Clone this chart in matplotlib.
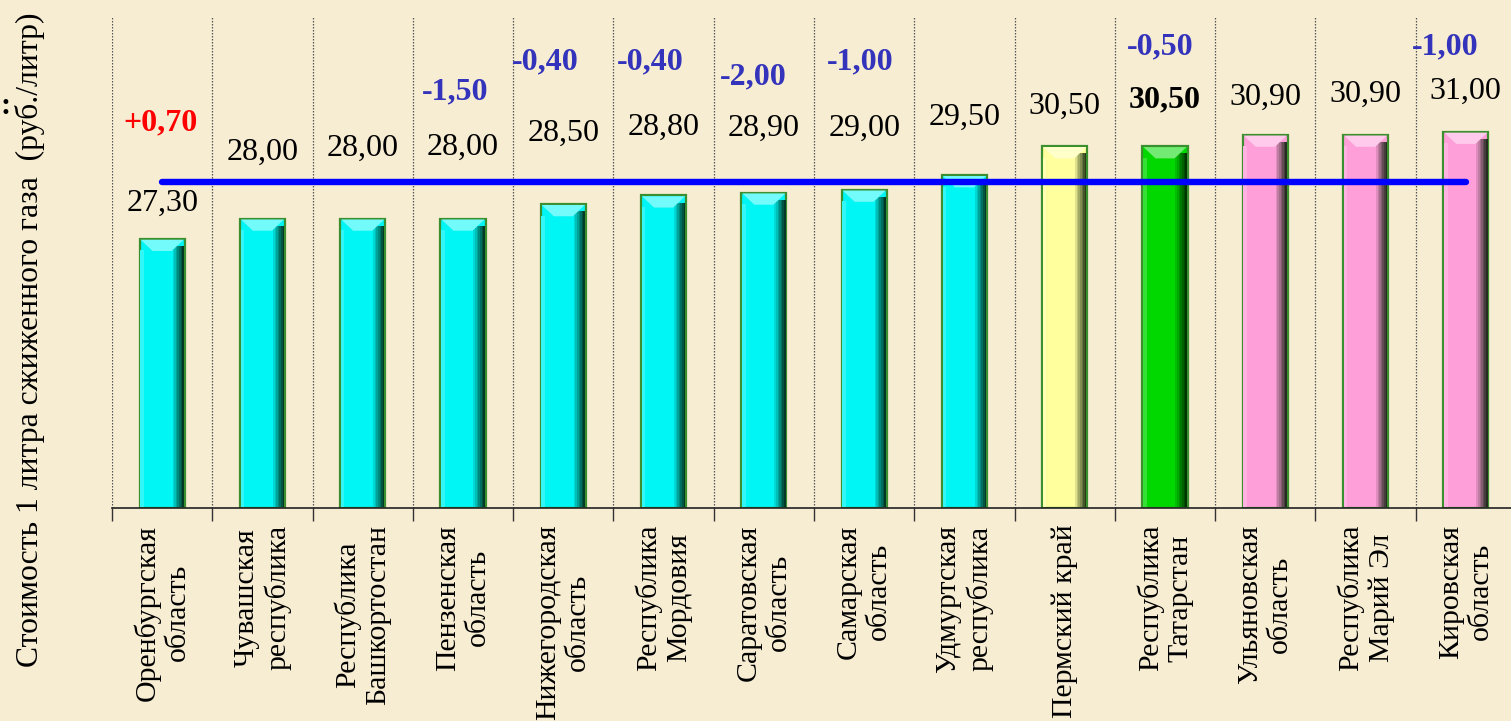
import numpy as np
import matplotlib
matplotlib.use("Agg")
import matplotlib.pyplot as plt
from matplotlib.colors import to_rgb

# ── data ─────────────────────────────────────────────────────────────────────
regions = [
    "Оренбургская\nобласть", "Чувашская\nреспублика", "Республика\nБашкортостан",
    "Пензенская\nобласть", "Нижегородская\nобласть", "Республика\nМордовия",
    "Саратовская\nобласть", "Самарская\nобласть", "Удмуртская\nреспублика",
    "Пермский край", "Республика\nТатарстан", "Ульяновская\nобласть",
    "Республика\nМарий Эл", "Кировская\nобласть",
]
prices = [27.30, 28.00, 28.00, 28.00, 28.50, 28.80, 28.90, 29.00, 29.50,
          30.50, 30.50, 30.90, 30.90, 31.00]
changes = [0.70, None, None, -1.50, -0.40, -0.40, -2.00, -1.00, None,
           None, -0.50, None, None, -1.00]
groups = ["low"] * 9 + ["perm", "tatar"] + ["high"] * 3

# ── style / layout ───────────────────────────────────────────────────────────
BG = "#F7EDD3"
FACE = {"low": "#00F5F5", "perm": "#FFFF9E", "tatar": "#00D800", "high": "#FF9FDA"}
EDGE = "#3C8F2E"
BAR_W = 0.45
YMIN, YMAX = 18, 35
SERIF = ["Liberation Serif", "DejaVu Serif"]

# label centres (data units) picked to match the original slide
price_label_y = [28.54, 30.30, 30.44, 30.47, 30.96, 31.17, 31.13, 31.13, 31.51,
                 31.89, 32.10, 32.20, 32.30, 32.41]
change_label_y = [31.30, None, None, 32.37, 33.41, 33.41, 32.89, 33.41, None,
                  None, 33.93, None, None, 33.93]
change_label_dx = [-0.02, 0, 0, -0.08, -0.18, -0.13, -0.11, -0.04, 0,
                   0, -0.05, 0, 0, -0.21]


def fmt(v, sign=False):
    s = f"{v:+.2f}" if sign else f"{v:.2f}"
    return s.replace(".", ",")


def mix(c, other, t):
    a, b = np.array(to_rgb(c)), np.array(to_rgb(other))
    return tuple(a * (1 - t) + b * t)


plt.rcParams["font.family"] = SERIF

fig = plt.figure(figsize=(15.11, 7.21), dpi=100, facecolor=BG)
ax = fig.add_axes([112 / 1511, 213 / 721, 1404 / 1511, 492 / 721])
ax.set_facecolor(BG)

x = np.arange(len(prices))
vals = np.array(prices)
faces = [FACE[g] for g in groups]

# base bars
ax.bar(x, vals - YMIN, bottom=YMIN, width=BAR_W, color=faces,
       edgecolor=EDGE, linewidth=1.6, zorder=2)

# bevel: darker gradient on right side, lighter on left edge
n_strip = 7
strip_w = BAR_W * 0.25 / n_strip
for k in range(n_strip):
    off = BAR_W / 2 - strip_w * (k + 0.5) - 0.008
    shade = [mix(f, "#001800", 0.85 - 0.12 * k) for f in faces]
    ax.bar(x + off, vals - YMIN - 0.3, bottom=YMIN + 0.05, width=strip_w,
           color=shade, linewidth=0, zorder=3)
ax.bar(x - BAR_W / 2 + 0.025, vals - YMIN - 0.45, bottom=YMIN + 0.05, width=0.035,
       color=[mix(f, "white", 0.2) for f in faces], linewidth=0, zorder=3)

# bevel: lighter top cap
cap_d, cap_h = 0.12, 0.42
for xi, v, f in zip(x, vals, faces):
    x0, x1 = xi - BAR_W / 2 + 0.01, xi + BAR_W / 2 - 0.01
    ax.fill([x0, x1, x1 - cap_d, x0 + cap_d], [v - 0.03, v - 0.03, v - cap_h, v - cap_h],
            color=mix(f, "white", 0.45), lw=0, zorder=4)

# mean line
mean_price = vals.mean()
ax.plot([x[0], x[-1]], [mean_price, mean_price], color="#0000FF", lw=4.6,
        solid_capstyle="round", zorder=5)

# price labels
for xi, v, ly, g in zip(x, prices, price_label_y, groups):
    ax.text(xi, ly, fmt(v), ha="center", va="center", fontsize=23,
            fontweight="bold" if g == "tatar" else "normal", color="black", zorder=6)

# change labels
for xi, ch, ly, dx in zip(x, changes, change_label_y, change_label_dx):
    if ch is None:
        continue
    col = "#FF0000" if ch > 0 else "#3333BB"
    ax.text(xi + dx, ly, fmt(ch, sign=True), ha="center", va="center",
            fontsize=23, fontweight="bold", color=col, zorder=6)

# axes
ax.set_xlim(-0.5, len(prices) - 0.5)
ax.set_ylim(YMIN, YMAX)
ax.set_yticks([])
bounds = np.arange(len(prices) + 1) - 0.5
ax.set_xticks(bounds)
ax.set_xticklabels([])
ax.tick_params(axis="x", which="major", length=9, width=1, color="#333333", direction="out")
ax.set_xticks(x, minor=True)
ax.set_xticklabels(regions, minor=True, rotation=90, ha="center", va="top",
                   multialignment="center", fontsize=21.5)
ax.tick_params(axis="x", which="minor", length=0, pad=12)
ax.grid(axis="x", which="major", color="#555555", lw=0.9, ls=(0, (1.2, 1.2)), zorder=1)
for side in ("top", "right", "left"):
    ax.spines[side].set_visible(False)
ax.spines["bottom"].set_color("#222222")
ax.spines["bottom"].set_linewidth(1.2)

fig.text(30 / 1511, 1 - 340 / 721, "Стоимость 1 литра сжиженного газа  (руб./литр)",
         rotation=90, ha="center", va="center", fontsize=22.8)
fig.text(0.5 / 1511, 1 - 107 / 721, ":", ha="left", va="center", fontsize=22,
         fontweight="bold")

fig.savefig("out.png", dpi=100, facecolor=BG)
